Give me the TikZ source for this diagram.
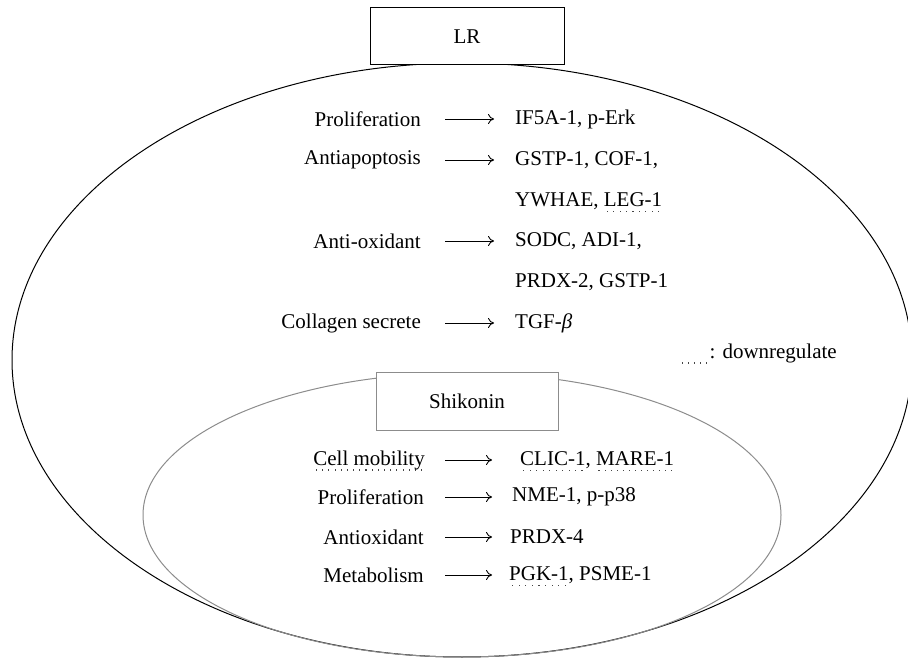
\documentclass[tikz,border=0pt]{standalone}
\usepackage{fontspec}
\setmainfont{Liberation Serif}
\usetikzlibrary{arrows.meta}

\definecolor{shikgray}{RGB}{140,140,140}
\definecolor{dotgray}{RGB}{70,70,70}
\newcommand{\downreg}[1]{\leavevmode\setbox0=\hbox{#1}\rlap{\raisebox{-5.5pt}[0pt][0pt]{\color{dotgray}\hbox to \wd0{\xleaders\hbox to 6pt{\hss\rule{1.1pt}{1.1pt}\hss}\hfill}}}\box0}

\begin{document}
\begin{tikzpicture}[x=1pt,y=-1pt,
  every node/.style={font=\fontsize{21}{25}\selectfont},
  box/.style={draw,fill=white,line width=1pt,minimum height=57pt},
  lab/.style={inner sep=0pt,anchor=east},
  res/.style={inner sep=0pt,anchor=west},
  arr/.style={line width=0.9pt,-{To[length=6pt,width=10pt]},shorten <=24pt,shorten >=21pt}]
\useasboundingbox (0,0) rectangle (908,660);
\draw[line width=1pt] (462,360) ellipse [x radius=450,y radius=297];
\draw[shikgray,line width=1pt] (462,515) ellipse [x radius=319,y radius=142];
\node[box,minimum width=194pt] (lr) at (467,36.5) {LR};
\node[box,draw=shikgray,minimum width=182pt] (shik) at (467,401.5) {Shikonin};

\node[lab] (a1) at (421,119) {Proliferation};
\node[lab] (a2) at (421,160) {Antiapoptosis};
\node[lab] (a3) at (421,241) {Anti-oxidant};
\node[lab] (a4) at (421,323) {Collagen secrete};
\node[res] (b1) at (515,119) {IF5A-1, p-Erk};
\node[res] (b2) at (515,160) {GSTP-1, COF-1,};
\node[res] (b2x) at (515,201) {YWHAE, \downreg{LEG-1}};
\node[res] (b3) at (515,241) {SODC, ADI-1,};
\node[res] (b3x) at (515,282) {PRDX-2, GSTP-1};
\node[res] (b4) at (515,323) {TGF-\textit{β}};
\foreach \i in {1,...,4} \draw[arr] (a\i.east) -- (b\i.west);

\node[lab] (key) at (837,353) {\downreg{\hspace*{30pt}}: downregulate};

\node[lab] (c1) at (425,460) {\downreg{Cell mobility}};
\node[lab] (c2) at (424,497) {Proliferation};
\node[lab] (c3) at (424,537) {Antioxidant};
\node[lab] (c4) at (424,575) {Metabolism};
\node[res] (d1) at (520,460) {\downreg{CLIC-1}, \downreg{MARE-1}};
\node[res] (d2) at (512,497) {NME-1, p-p38};
\node[res] (d3) at (510,537) {PRDX-4};
\node[res] (d4) at (509,575) {\downreg{PGK-1}, PSME-1};
\draw[arr,shorten <=20pt,shorten >=28pt] (c1.east) -- (d1.west);
\draw[arr,shorten <=21pt,shorten >=20pt] (c2.east) -- (d2.west);
\draw[arr,shorten <=21pt,shorten >=18pt] (c3.east) -- (d3.west);
\draw[arr,shorten <=21pt,shorten >=17pt] (c4.east) -- (d4.west);
\end{tikzpicture}
\end{document}
